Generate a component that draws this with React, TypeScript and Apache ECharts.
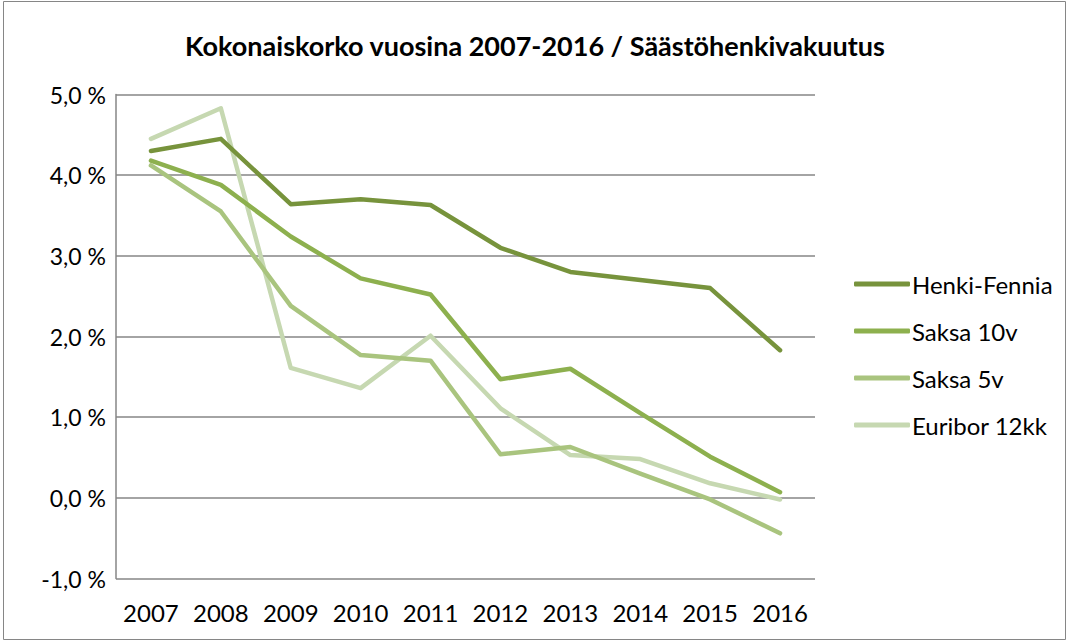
import React, { useEffect, useRef } from "react";
import * as echarts from "echarts";

const years = ["2007", "2008", "2009", "2010", "2011", "2012", "2013", "2014", "2015", "2016"];
const henkiFennia = [4.3, 4.45, 3.64, 3.7, 3.63, 3.1, 2.8, 2.7, 2.6, 1.83];
const saksa10v = [4.18, 3.88, 3.24, 2.72, 2.52, 1.47, 1.6, 1.05, 0.51, 0.07];
const saksa5v = [4.12, 3.55, 2.38, 1.77, 1.7, 0.54, 0.63, 0.3, -0.02, -0.44];
const euribor12kk = [4.45, 4.83, 1.61, 1.36, 2.01, 1.11, 0.53, 0.48, 0.18, -0.02];

const seriesNames = ["Henki-Fennia", "Saksa 10v", "Saksa 5v", "Euribor 12kk"];
const seriesColors = ["#77933C", "#8DB04E", "#A9C47E", "#C6D8B1"];
const seriesData = [henkiFennia, saksa10v, saksa5v, euribor12kk];

const FONT = "Lato, 'Open Sans', sans-serif";

export default function App() {
  const ref = useRef<HTMLDivElement>(null);
  useEffect(() => {
    document.body.style.margin = "0";
    const chart = echarts.init(ref.current!, null, { renderer: "svg" });
    chart.setOption({
      animation: false,
      backgroundColor: "#ffffff",
      textStyle: { fontFamily: FONT },
      title: {
        text: "Kokonaiskorko vuosina 2007-2016 / Säästöhenkivakuutus",
        left: "center",
        top: 27,
        textStyle: { fontFamily: FONT, fontSize: 27, fontWeight: "bold", color: "#000" },
      },
      graphic: [
        {
          type: "rect",
          shape: { x: 3.5, y: 1.5, width: 1062, height: 638 },
          style: { fill: "none", stroke: "#868686", lineWidth: 1 },
          silent: true,
        },
      ],
      legend: {
        orient: "vertical",
        left: 849,
        top: 267,
        itemWidth: 56,
        itemHeight: 5,
        itemGap: 23,
        icon: "roundRect",
        textStyle: { fontFamily: FONT, fontSize: 24, color: "#000", padding: [0, 0, 0, -3] },
        data: seriesNames,
      },
      grid: { left: 116, right: 255, top: 94.5, bottom: 62.5, containLabel: false },
      xAxis: {
        type: "category",
        data: years,
        boundaryGap: true,
        axisLine: { show: false },
        axisTick: { show: false },
        axisLabel: { fontFamily: FONT, fontSize: 24, color: "#000", margin: 22, interval: 0 },
      },
      yAxis: {
        type: "value",
        min: -1,
        max: 5,
        interval: 1,
        axisLine: { show: true, lineStyle: { color: "#868686", width: 1.5 } },
        axisTick: { show: false },
        splitLine: { lineStyle: { color: "#868686", width: 1.5 } },
        axisLabel: {
          fontFamily: FONT,
          fontSize: 23,
          color: "#000",
          margin: 10,
          formatter: (v: number) => v.toFixed(1).replace(".", ",") + " %",
        },
      },
      series: seriesNames.map((name, i) => ({
        name,
        type: "line",
        data: seriesData[i],
        color: seriesColors[i],
        symbol: "none",
        lineStyle: { width: 4.5, color: seriesColors[i], cap: "round", join: "round" },
        z: 10 - i,
      })),
    });
    return () => chart.dispose();
  }, []);
  return <div ref={ref} style={{ width: 1070, height: 641 }} />;
}
